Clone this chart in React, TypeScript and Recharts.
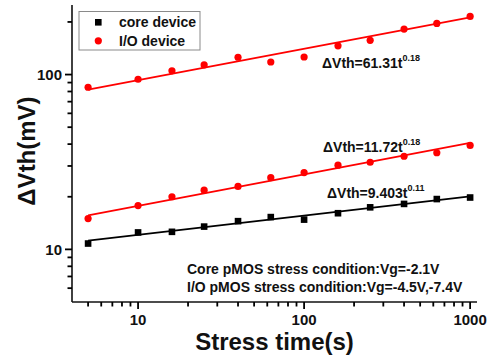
import React from "react";
import { ComposedChart, Scatter, XAxis, YAxis } from "recharts";

// Stress times (s) and measured threshold-voltage shifts (mV)
const stressTimes = [5, 10, 16, 25, 40, 63, 100, 160, 250, 400, 630, 1000];
const coreVth = [10.8, 12.5, 12.6, 13.5, 14.5, 15.3, 14.8, 16.1, 17.4, 18.2, 19.4, 19.8];
const ioLowVth = [15.0, 17.8, 20.0, 21.8, 22.9, 25.7, 27.5, 30.3, 31.5, 34.1, 35.7, 39.3];
const ioHighVth = [84.6, 94, 105, 113.6, 125.6, 118, 126, 146, 157, 182, 196, 215];

// Power-law fit end points (straight lines on log-log axes)
const fitTimes = [5, 1000];
const coreFit = [11.22, 20.1];
const ioLowFit = [15.66, 40.64];
const ioHighFit = [81.91, 212.59];

const xTicks = [
  5, 6, 7, 8, 9, 10, 20, 30, 40, 50, 60, 70, 80, 90,
  100, 200, 300, 400, 500, 600, 700, 800, 900, 1000,
];
const xMajor = [10, 100, 1000];
const yTicks = [6, 7, 8, 9, 10, 20, 30, 40, 50, 60, 70, 80, 90, 100, 200];
const yMajor = [10, 100];

const FONT = '"Liberation Sans", Arial, Helvetica, sans-serif';
const RED = "#ff0000";
const INK = "#111";

const toPoints = (ts: number[], vs: number[]) => ts.map((t, i) => ({ t, v: vs[i] }));

const coreData = toPoints(stressTimes, coreVth);
const ioLowData = toPoints(stressTimes, ioLowVth);
const ioHighData = toPoints(stressTimes, ioHighVth);
const coreLine = toPoints(fitTimes, coreFit);
const ioLowLine = toPoints(fitTimes, ioLowFit);
const ioHighLine = toPoints(fitTimes, ioHighFit);

const tickLen = (major: boolean) => (major ? 7 : 4.5);

// tickSize and tickMargin are 0, so x/y sit on the axis line itself
function BottomTick(props: any) {
  const x = Number(props.x);
  const y = Number(props.y);
  const value = props.payload.value;
  const major = xMajor.includes(value);
  return (
    <g>
      <line x1={x} y1={y} x2={x} y2={y + tickLen(major)} stroke="#000" strokeWidth={1.8} />
      {major && (
        <text x={x} y={y + 23} textAnchor="middle" fontFamily={FONT} fontWeight="bold" fontSize={15} fill={INK}>
          {value}
        </text>
      )}
    </g>
  );
}

// top and right edges carry inward ticks only
function TopTick(props: any) {
  const x = Number(props.x);
  const y = Number(props.y);
  const major = xMajor.includes(props.payload.value);
  return <line x1={x} y1={y} x2={x} y2={y + tickLen(major)} stroke="#000" strokeWidth={1.8} />;
}

function LeftTick(props: any) {
  const x = Number(props.x);
  const y = Number(props.y);
  const value = props.payload.value;
  const major = yMajor.includes(value);
  return (
    <g>
      <line x1={x - tickLen(major)} y1={y} x2={x} y2={y} stroke="#000" strokeWidth={1.8} />
      {major && (
        <text x={x - 10} y={y} dy="0.36em" textAnchor="end" fontFamily={FONT} fontWeight="bold" fontSize={15} fill={INK}>
          {value}
        </text>
      )}
    </g>
  );
}

function RightTick(props: any) {
  const x = Number(props.x);
  const y = Number(props.y);
  const major = yMajor.includes(props.payload.value);
  return <line x1={x - tickLen(major)} y1={y} x2={x} y2={y} stroke="#000" strokeWidth={1.8} />;
}

const SquareDot = (props: any) => (
  <rect x={props.cx - 3.3} y={props.cy - 3.3} width={6.6} height={6.6} fill="#000" />
);
const RoundDot = (props: any) => <circle cx={props.cx} cy={props.cy} r={3.6} fill={RED} />;
const NoDot = () => <g />;

function FitLabel({ x, y, coef, exp }: { x: number; y: number; coef: string; exp: string }) {
  return (
    <text x={x} y={y} fontFamily={FONT} fontWeight="bold" fontSize={14} fill={INK}>
      {`ΔVth=${coef}t`}
      <tspan dy={-7} fontSize={9}>
        {exp}
      </tspan>
    </text>
  );
}

export default function App() {
  return (
    <div style={{ width: 487, height: 358 }}>
      <style>{"body{margin:0}"}</style>
      <ComposedChart width={487} height={358} margin={{ top: 5, right: 10, bottom: 0, left: 0 }}>
        <XAxis
          xAxisId="b"
          type="number"
          dataKey="t"
          scale="log"
          domain={[4, 1100]}
          allowDataOverflow
          ticks={xTicks}
          interval={0}
          height={56}
          tickSize={0}
          tickMargin={0}
          tickLine={false}
          stroke={INK}
          strokeWidth={1.6}
          tick={BottomTick}
        />
        <XAxis
          xAxisId="t"
          orientation="top"
          type="number"
          dataKey="t"
          scale="log"
          domain={[4, 1100]}
          allowDataOverflow
          ticks={xTicks}
          interval={0}
          height={0}
          tickSize={0}
          tickMargin={0}
          tickLine={false}
          stroke={INK}
          strokeWidth={1.6}
          tick={TopTick}
        />
        <YAxis
          yAxisId="l"
          type="number"
          dataKey="v"
          scale="log"
          domain={[5, 250]}
          allowDataOverflow
          ticks={yTicks}
          interval={0}
          width={72}
          tickSize={0}
          tickMargin={0}
          tickLine={false}
          stroke={INK}
          strokeWidth={1.6}
          tick={LeftTick}
        />
        <YAxis
          yAxisId="r"
          orientation="right"
          type="number"
          dataKey="v"
          scale="log"
          domain={[5, 250]}
          allowDataOverflow
          ticks={yTicks}
          interval={0}
          width={0}
          tickSize={0}
          tickMargin={0}
          tickLine={false}
          stroke={INK}
          strokeWidth={1.6}
          tick={RightTick}
        />

        <Scatter xAxisId="b" yAxisId="l" data={ioHighLine} line={{ stroke: RED, strokeWidth: 1.8 }} shape={NoDot} isAnimationActive={false} />
        <Scatter xAxisId="b" yAxisId="l" data={ioLowLine} line={{ stroke: RED, strokeWidth: 1.8 }} shape={NoDot} isAnimationActive={false} />
        <Scatter xAxisId="b" yAxisId="l" data={coreLine} line={{ stroke: "#000", strokeWidth: 1.8 }} shape={NoDot} isAnimationActive={false} />
        <Scatter xAxisId="b" yAxisId="l" data={coreData} shape={SquareDot} isAnimationActive={false} />
        <Scatter xAxisId="b" yAxisId="l" data={ioLowData} shape={RoundDot} isAnimationActive={false} />
        <Scatter xAxisId="b" yAxisId="l" data={ioHighData} shape={RoundDot} isAnimationActive={false} />

        {/* legend */}
        <g>
          <rect x={79} y={11.5} width={121} height={38.5} fill="#fff" stroke="#8a8a8a" strokeWidth={1} />
          <rect x={95} y={19} width={6.6} height={6.6} fill="#000" />
          <circle cx={98.3} cy={40.8} r={3.6} fill={RED} />
          <text x={119} y={27} fontFamily={FONT} fontWeight="bold" fontSize={14} fill={INK}>core device</text>
          <text x={119} y={45.6} fontFamily={FONT} fontWeight="bold" fontSize={14} fill={INK}>I/O device</text>
        </g>

        <FitLabel x={322} y={68} coef="61.31" exp="0.18" />
        <FitLabel x={323} y={152} coef="11.72" exp="0.18" />
        <FitLabel x={327} y={198} coef="9.403" exp="0.11" />

        <text x={187} y={274} fontFamily={FONT} fontWeight="bold" fontSize={14} fill={INK}>
          Core pMOS stress condition:Vg=-2.1V
        </text>
        <text x={187} y={291.5} fontFamily={FONT} fontWeight="bold" fontSize={14} fill={INK}>
          I/O pMOS stress condition:Vg=-4.5V,-7.4V
        </text>

        <text x={274.5} y={350} textAnchor="middle" fontFamily={FONT} fontWeight="bold" fontSize={24} fill={INK}>
          Stress time(s)
        </text>
        <text
          x={35}
          y={151}
          transform="rotate(-90 35 151)"
          textAnchor="middle"
          fontFamily={FONT}
          fontWeight="bold"
          fontSize={24}
          fill={INK}
        >
          ΔVth(mV)
        </text>
      </ComposedChart>
    </div>
  );
}
